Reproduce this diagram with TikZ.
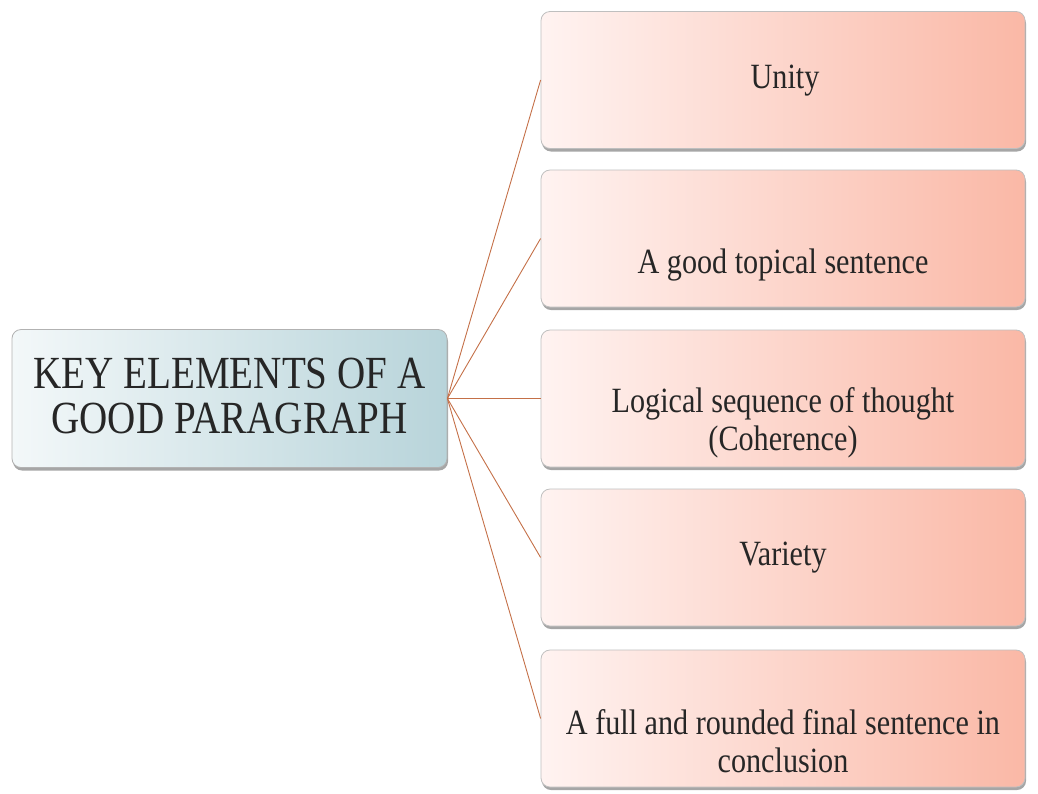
\documentclass[tikz,border=0pt]{standalone}
\usepackage{fontspec}
\setmainfont{Liberation Serif}
\newfontfamily\narrowserif{Liberation Serif}[FakeStretch=0.85]
\usetikzlibrary{shadows}

\definecolor{keylight}{RGB}{243,248,249}
\definecolor{keydark}{RGB}{184,212,218}
\definecolor{itemlight}{RGB}{255,243,241}
\definecolor{itemdark}{RGB}{250,184,166}
\definecolor{linkcol}{RGB}{196,112,72}

\tikzset{
  keybox/.style={draw=black!30, line width=0.8pt, rounded corners=9pt,
    left color=keylight, right color=keydark,
    drop shadow={shadow xshift=1pt, shadow yshift=-3pt, fill=black!50, opacity=0.7},
    minimum width=435pt, minimum height=138pt},
  itembox/.style={draw=black!25, line width=0.8pt, rounded corners=9pt,
    left color=itemlight, right color=itemdark,
    drop shadow={shadow xshift=1pt, shadow yshift=-3pt, fill=black!50, opacity=0.7},
    minimum width=484pt, minimum height=137pt},
  itemtext/.style={anchor=base, align=center, inner sep=0pt,
    font=\narrowserif\fontsize{35.5}{38}\selectfont, text=black!85},
  link/.style={draw=linkcol, line width=0.9pt}
}

\begin{document}
\begin{tikzpicture}[x=1pt, y=-1pt]
  \useasboundingbox (0,0) rectangle (1038,793);

  \node[keybox] (key) at (229.5,398.5) {};
  \node[anchor=base, align=center, inner sep=0pt, text=black!85,
    font=\narrowserif\fontsize{46}{45}\selectfont] (keytxt) at (229.5,433)
    {KEY ELEMENTS OF A\\GOOD PARAGRAPH};

  \node[itembox] (unity) at (783,80) {};
  \node[itembox] (topic) at (783,238.5) {};
  \node[itembox] (logic) at (783,398.5) {};
  \node[itembox] (variety) at (783,557.5) {};
  \node[itembox] (final) at (783,718.5) {};

  % base = last line
  \node[itemtext] (unitytxt) at (785,88) {Unity};
  \node[itemtext] (topictxt) at (783,273) {A good topical sentence};
  \node[itemtext] (logictxt) at (783,450) {Logical sequence of thought\\(Coherence)};
  \node[itemtext] (varietytxt) at (783,565) {Variety};
  \node[itemtext] (finaltxt) at (783,772) {A full and rounded final sentence in\\conclusion};

  \foreach \n in {unity,topic,logic,variety,final}
    \draw[link] (key.east) -- (\n.west);
\end{tikzpicture}
\end{document}
